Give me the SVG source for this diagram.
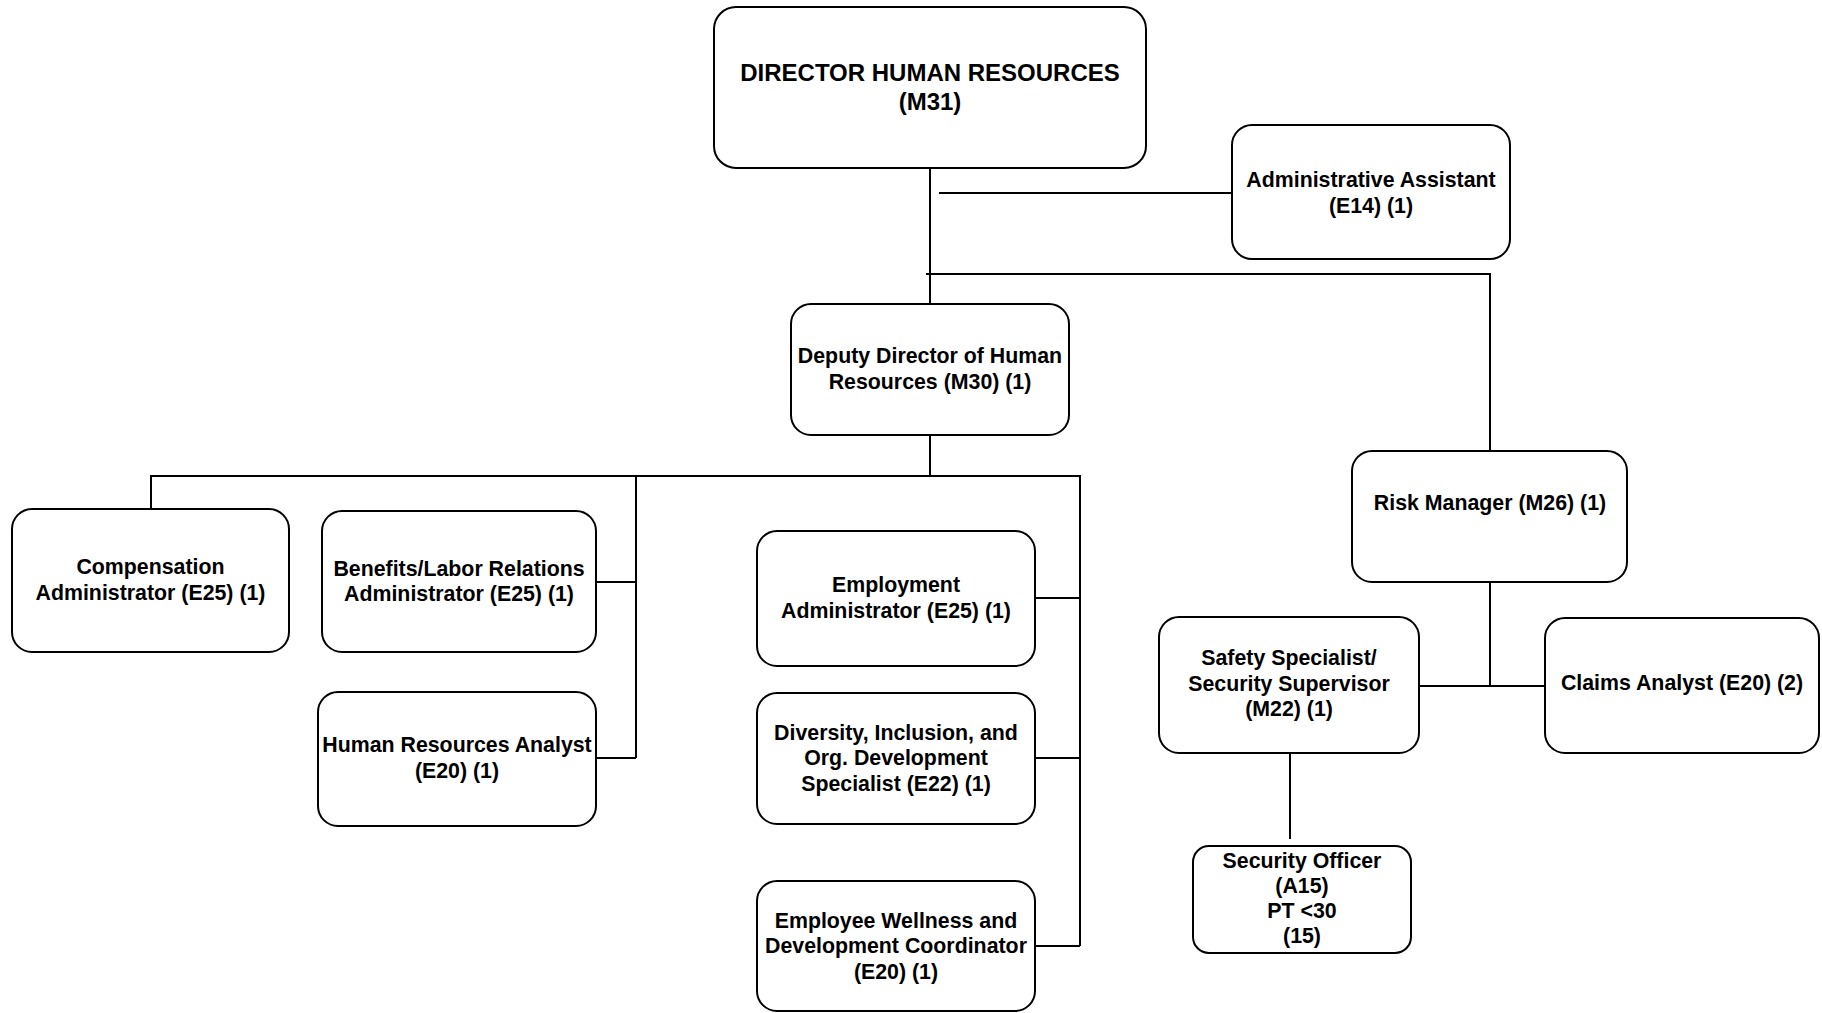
<svg xmlns="http://www.w3.org/2000/svg" width="1822" height="1013" viewBox="0 0 1822 1013">
  <style>
    .box { fill: #ffffff; stroke: #000000; stroke-width: 2; }
    .lbl { font-family: "Liberation Sans", Arial, Helvetica, sans-serif; font-weight: bold; font-size: 21.33px; fill: #000000; text-anchor: middle; }
    .big { font-size: 24px; }
    .conn { fill: none; stroke: #000000; stroke-width: 2; }
  </style>
  <rect width="1822" height="1013" fill="#ffffff"/>
  <g id="connectors">
    <path class="conn" d="M930 168 V304"/>
    <path class="conn" d="M939 193 H1232"/>
    <path class="conn" d="M926 274 H1490 V451"/>
    <path class="conn" d="M930 435 V476"/>
    <path class="conn" d="M151 509 V476 H1080 V946"/>
    <path class="conn" d="M636 476 V758"/>
    <path class="conn" d="M596 582 H636"/>
    <path class="conn" d="M596 758 H636"/>
    <path class="conn" d="M1035 598 H1080"/>
    <path class="conn" d="M1035 758 H1080"/>
    <path class="conn" d="M1035 946 H1080"/>
    <path class="conn" d="M1490 582 V687"/>
    <path class="conn" d="M1419 686 H1545"/>
    <path class="conn" d="M1290 753 V839"/>
  </g>
  <g id="director">
    <rect class="box" x="714" y="7" width="432" height="161" rx="22"/>
    <text class="lbl big" x="930" y="81">DIRECTOR HUMAN RESOURCES</text>
    <text class="lbl big" x="930" y="110">(M31)</text>
  </g>
  <g id="admin-assistant">
    <rect class="box" x="1232" y="125" width="278" height="134" rx="20"/>
    <text class="lbl" x="1371" y="187">Administrative Assistant</text>
    <text class="lbl" x="1371" y="213">(E14) (1)</text>
  </g>
  <g id="deputy-director">
    <rect class="box" x="791" y="304" width="278" height="131" rx="20"/>
    <text class="lbl" x="930" y="363">Deputy Director of Human</text>
    <text class="lbl" x="930" y="389">Resources (M30) (1)</text>
  </g>
  <g id="compensation">
    <rect class="box" x="12" y="509" width="277" height="143" rx="20"/>
    <text class="lbl" x="150.5" y="574">Compensation</text>
    <text class="lbl" x="150.5" y="600">Administrator (E25) (1)</text>
  </g>
  <g id="benefits">
    <rect class="box" x="322" y="511" width="274" height="141" rx="20"/>
    <text class="lbl" x="459" y="576">Benefits/Labor Relations</text>
    <text class="lbl" x="459" y="601">Administrator (E25) (1)</text>
  </g>
  <g id="hr-analyst">
    <rect class="box" x="318" y="692" width="278" height="134" rx="20"/>
    <text class="lbl" x="457" y="752">Human Resources Analyst</text>
    <text class="lbl" x="457" y="778">(E20) (1)</text>
  </g>
  <g id="employment">
    <rect class="box" x="757" y="531" width="278" height="135" rx="20"/>
    <text class="lbl" x="896" y="592">Employment</text>
    <text class="lbl" x="896" y="618">Administrator (E25) (1)</text>
  </g>
  <g id="diversity">
    <rect class="box" x="757" y="693" width="278" height="131" rx="20"/>
    <text class="lbl" x="896" y="740">Diversity, Inclusion, and</text>
    <text class="lbl" x="896" y="765">Org. Development</text>
    <text class="lbl" x="896" y="791">Specialist (E22) (1)</text>
  </g>
  <g id="wellness">
    <rect class="box" x="757" y="881" width="278" height="130" rx="20"/>
    <text class="lbl" x="896" y="928">Employee Wellness and</text>
    <text class="lbl" x="896" y="953">Development Coordinator</text>
    <text class="lbl" x="896" y="979">(E20) (1)</text>
  </g>
  <g id="risk-manager">
    <rect class="box" x="1352" y="451" width="275" height="131" rx="20"/>
    <text class="lbl" x="1490" y="510">Risk Manager (M26) (1)</text>
  </g>
  <g id="safety-specialist">
    <rect class="box" x="1159" y="617" width="260" height="136" rx="20"/>
    <text class="lbl" x="1289" y="665">Safety Specialist/</text>
    <text class="lbl" x="1289" y="691">Security Supervisor</text>
    <text class="lbl" x="1289" y="716">(M22) (1)</text>
  </g>
  <g id="claims-analyst">
    <rect class="box" x="1545" y="618" width="274" height="135" rx="20"/>
    <text class="lbl" x="1682" y="690">Claims Analyst (E20) (2)</text>
  </g>
  <g id="security-officer">
    <rect class="box" x="1193" y="846" width="218" height="107" rx="16"/>
    <text class="lbl" x="1302" y="868">Security Officer</text>
    <text class="lbl" x="1302" y="893">(A15)</text>
    <text class="lbl" x="1302" y="918">PT &lt;30</text>
    <text class="lbl" x="1302" y="943">(15)</text>
  </g>
</svg>
